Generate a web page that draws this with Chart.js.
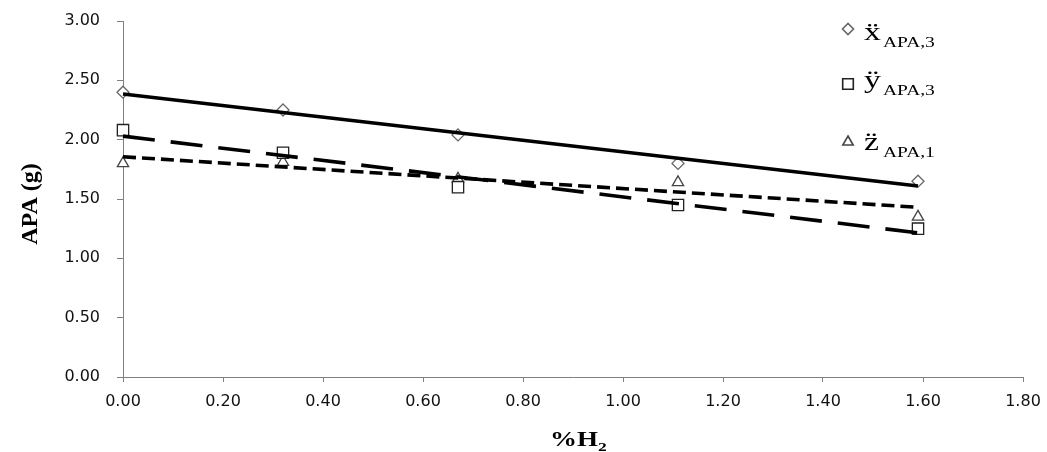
<!DOCTYPE html>
<html>
<head>
<meta charset="utf-8">
<script src="https://cdn.jsdelivr.net/npm/chart.js@4/dist/chart.umd.min.js"></script>
<style>
  html,body{margin:0;padding:0;background:#fff;}
  #wrap{width:1047px;height:452px;position:relative;}
</style>
</head>
<body>
<div id="wrap"><canvas id="apaChart"></canvas></div>
<script>
  // %H2 values (x axis)
  const h2Pct = [0.00, 0.32, 0.67, 1.11, 1.59];
  // measured APA (g) per series
  const xApa3 = [2.40, 2.25, 2.04, 1.80, 1.65];
  const yApa3 = [2.08, 1.89, 1.60, 1.45, 1.25];
  const zApa1 = [1.80, 1.81, 1.67, 1.64, 1.35];
  // linear trend end points (same order as series)
  const trendX = [0.00, 1.59];
  const xTrend = [2.385, 1.61];
  const yTrend = [2.03, 1.215];
  const zTrend = [1.856, 1.43];

  const legendLetters = ['\u1E8D', '\u00FF', 'z\u0308'];
  const legendSubs = ['APA,3', 'APA,3', 'APA,1'];

  const pts = (xs, ys) => xs.map((x, i) => ({x: x, y: ys[i]}));

  const markerStyles = [
    {style:'rectRot', radius:6, color:'#666'},
    {style:'rect', radius:8, color:'#222'},
    {style:'triangle', radius:6.5, color:'#444'}
  ];

  function markerSet(label, data, m){
    return {
      label, data: pts(h2Pct, data), showLine:false, order:2, clip:false,
      pointStyle:m.style, pointRadius:m.radius, pointBorderColor:m.color,
      pointBackgroundColor:'#fff', pointBorderWidth:1.3
    };
  }
  function trendSet(label, data, dash){
    return {
      label, data: pts(trendX, data), showLine:true, order:1, clip:false,
      borderColor:'#000', borderWidth:3.6, borderDash:dash, pointRadius:0, fill:false
    };
  }

  // legend + axis titles drawn on the canvas
  const decor = {
    id:'decor',
    afterDraw(chart){
      const ctx = chart.ctx;
      const rows = [
        {my:29, mb:40, sb:47},
        {my:84, mb:88, sb:95},
        {my:142, mb:150, sb:157}
      ];
      ctx.save();
      rows.forEach((r, i) => {
        const m = markerStyles[i];
        ctx.strokeStyle = m.color; ctx.fillStyle = '#fff'; ctx.lineWidth = 1.6;
        Chart.helpers.drawPoint(ctx, {pointStyle:m.style, radius:m.radius - 0.5, borderWidth:1.6}, 848, r.my);
        ctx.fillStyle = '#000';
        ctx.save();
        ctx.translate(864, r.mb); ctx.scale(1.3, 1);
        ctx.font = '26px "Liberation Serif"'; ctx.textAlign = 'left'; ctx.textBaseline = 'alphabetic';
        ctx.fillText(legendLetters[i], 0, 0);
        ctx.restore();
        ctx.save();
        ctx.translate(883, r.sb); ctx.scale(1.3, 1);
        ctx.font = '15px "Liberation Serif"';
        ctx.fillText(legendSubs[i], 0, 0);
        ctx.restore();
      });
      // y title
      ctx.save();
      ctx.translate(37, 204); ctx.rotate(-Math.PI/2);
      ctx.font = 'bold 24px "Liberation Serif"'; ctx.textAlign = 'center'; ctx.textBaseline = 'alphabetic';
      ctx.fillStyle = '#000';
      ctx.fillText('APA (g)', 0, 0);
      ctx.restore();
      // x title with subscript
      ctx.save();
      ctx.translate(550, 446); ctx.scale(1.35, 1);
      ctx.fillStyle = '#000'; ctx.textAlign = 'left';
      ctx.font = 'bold 20px "Liberation Serif"';
      ctx.fillText('%H', 0, 0);
      const w = ctx.measureText('%H').width;
      ctx.font = 'bold 13px "Liberation Serif"';
      ctx.fillText('2', w, 5);
      ctx.restore();
      ctx.restore();
    }
  };

  const tickFont = {family:'"DejaVu Sans"', size:16};
  const fmt2 = v => (Math.abs(v) < 1e-9 ? 0 : Number(v)).toFixed(2);

  new Chart(document.getElementById('apaChart'), {
    type:'scatter',
    data:{
      datasets:[
        markerSet('xAPA3', xApa3, markerStyles[0]),
        markerSet('yAPA3', yApa3, markerStyles[1]),
        markerSet('zAPA1', zApa1, markerStyles[2]),
        trendSet('x trend', xTrend, []),
        trendSet('y trend', yTrend, [32, 16]),
        trendSet('z trend', zTrend, [13, 6])
      ]
    },
    options:{
      responsive:true, maintainAspectRatio:false, animation:false,
      layout:{padding:{top:21, right:24, left:0, bottom:0}},
      plugins:{legend:{display:false}, tooltip:{enabled:false}},
      scales:{
        x:{
          type:'linear', min:0, max:1.8,
          afterFit(s){ s.height = 75; s.paddingLeft = 0; s.paddingRight = 0; },
          ticks:{stepSize:0.2, color:'#111', font:tickFont, padding:10, maxRotation:0,
            callback:fmt2},
          grid:{drawOnChartArea:false, tickLength:5, color:'#808080'},
          border:{color:'#808080', width:1}
        },
        y:{
          type:'linear', min:0, max:3,
          afterFit(s){ s.width = 123; s.paddingTop = 0; s.paddingBottom = 0; },
          ticks:{stepSize:0.5, color:'#111', font:tickFont, padding:17,
            callback:fmt2},
          grid:{drawOnChartArea:false, tickLength:6, color:'#808080'},
          border:{color:'#808080', width:1}
        }
      }
    },
    plugins:[decor]
  });
</script>
</body>
</html>
